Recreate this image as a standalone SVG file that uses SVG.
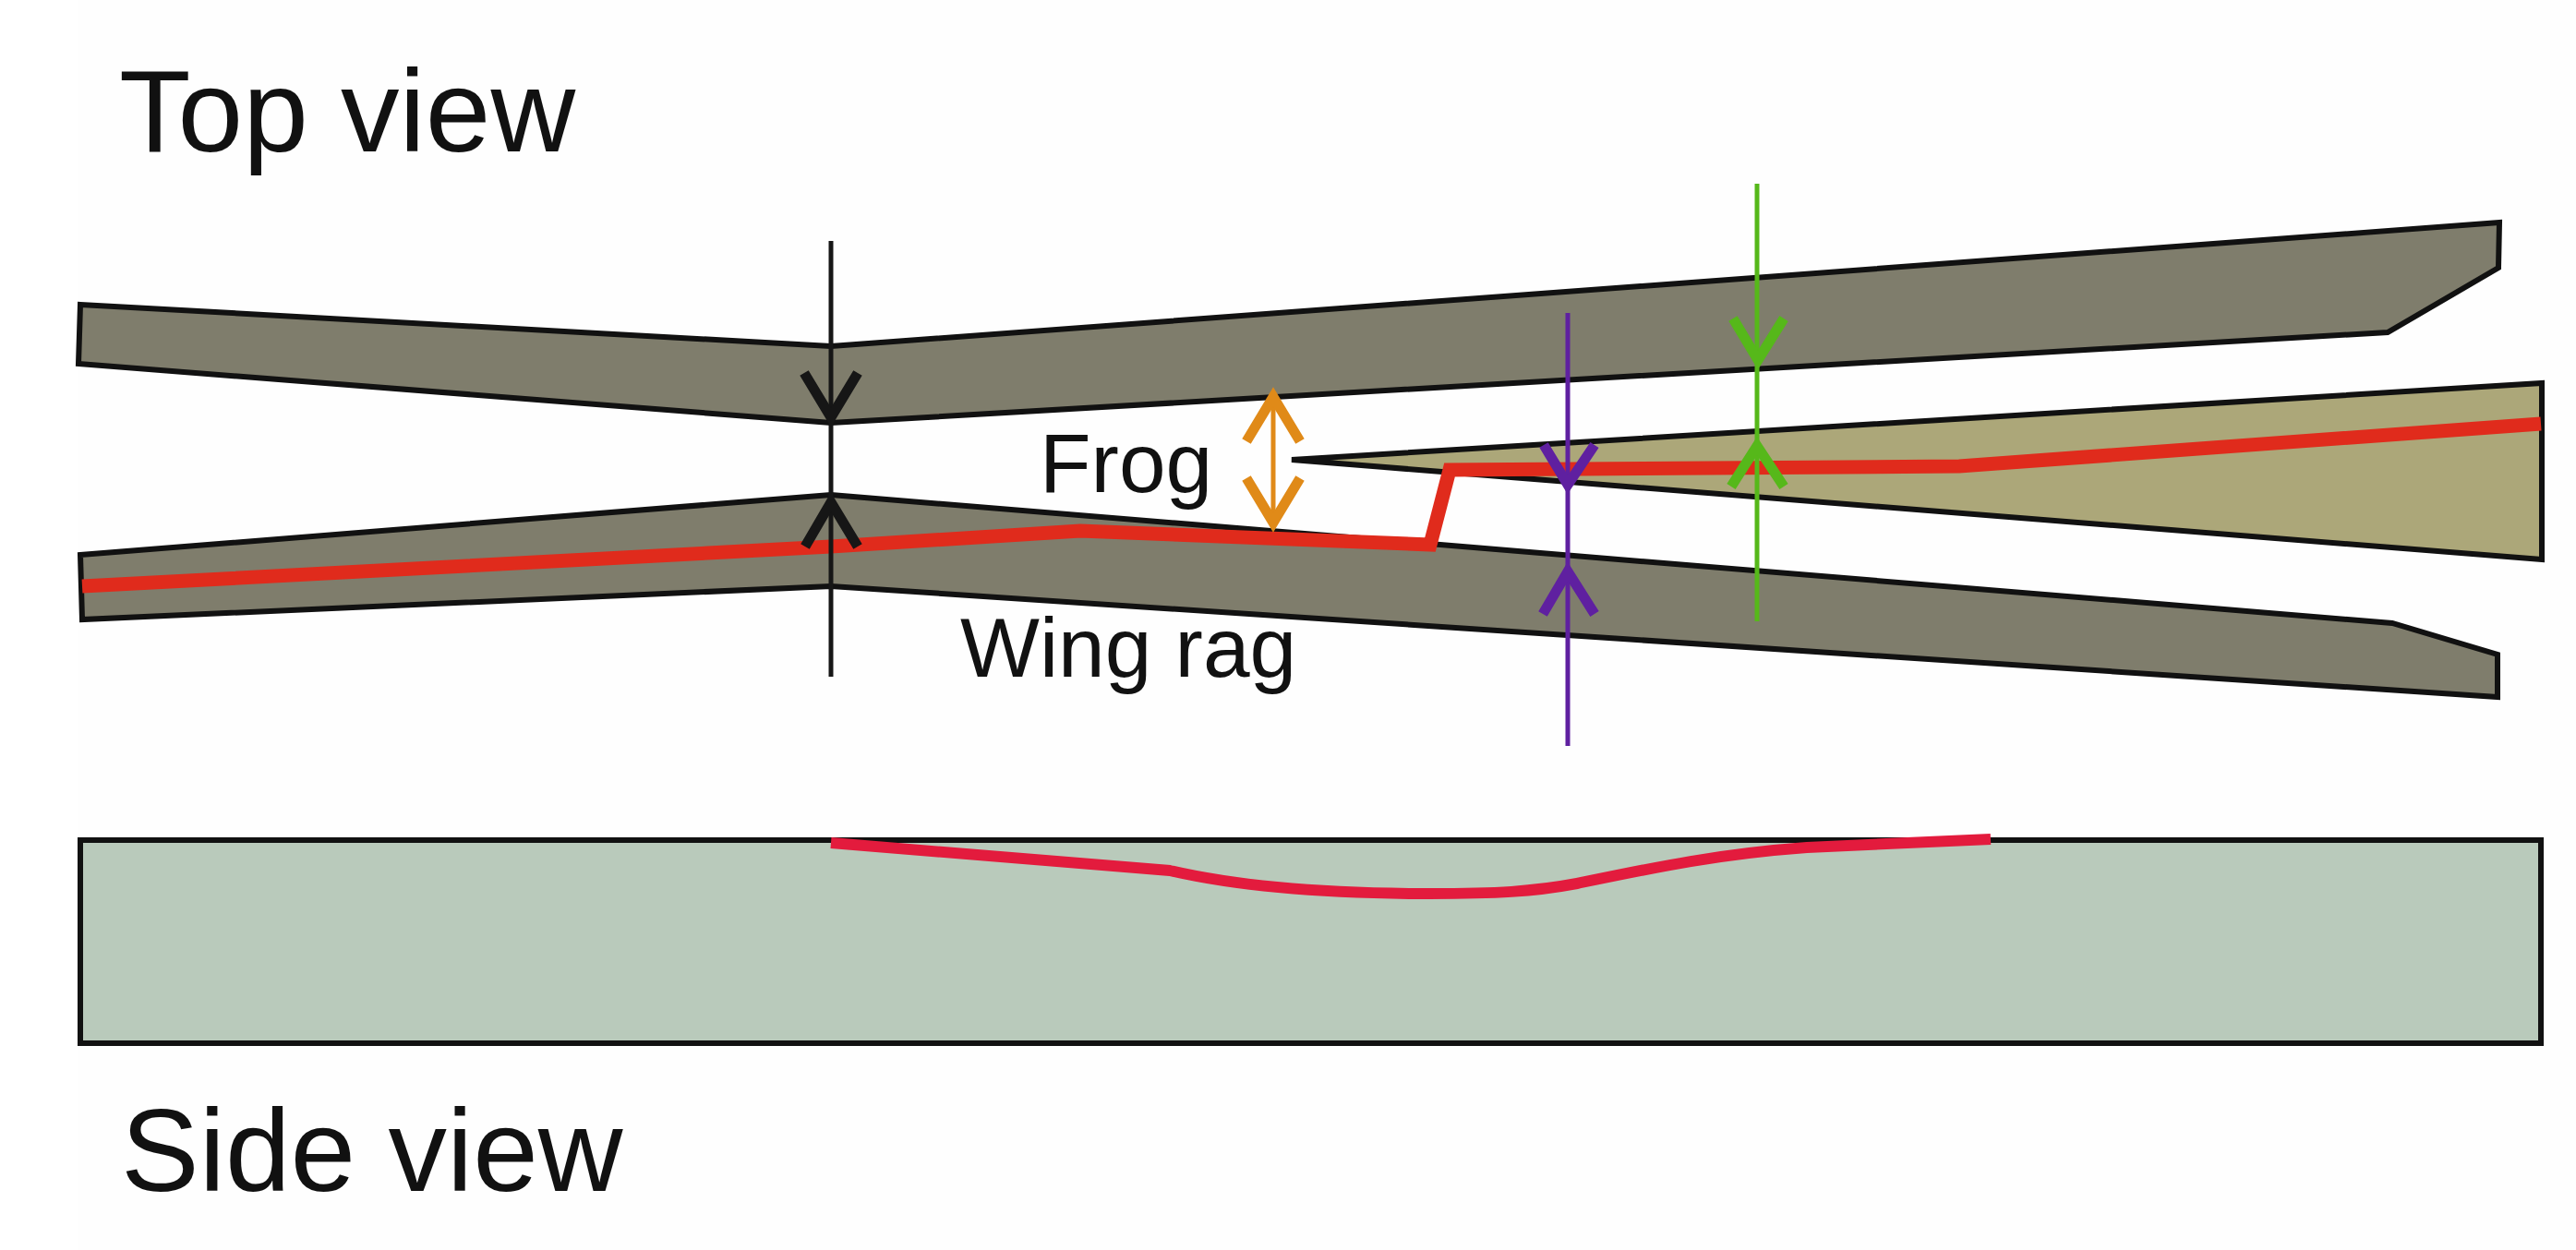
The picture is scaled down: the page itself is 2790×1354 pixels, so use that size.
<svg xmlns="http://www.w3.org/2000/svg" width="2790" height="1354" viewBox="0 0 2790 1354">
<style>
.band{fill:#7f7d6c;stroke:#111;stroke-width:6;stroke-linejoin:miter}
.frog{fill:#aca779;stroke:#111;stroke-width:6}
.side{fill:#b9cabb;stroke:#111;stroke-width:6}
.rail{fill:none;stroke:#e02b1c;stroke-width:15;stroke-linejoin:miter}
.dip{fill:none;stroke:#e31b3d;stroke-width:12}
.txt{font-family:"Liberation Sans",Arial,sans-serif;fill:#111111}
.big{font-size:127px}
.mid{font-size:91px}
.line{fill:none;stroke-width:5}
.head{fill:none;stroke-width:11;stroke-linejoin:miter}
.k{stroke:#161616}.o{stroke:#e08a18}.p{stroke:#5f20a0}.g{stroke:#56b81a}
</style>
<rect width="2790" height="1354" fill="#ffffff"/>
<rect x="85" y="0" width="2705" height="1354" fill="#fefefe"/>
<g id="top-view-label"><text class="txt big" x="129" y="164">Top view</text></g>
<g id="side-view-label"><text class="txt big" x="131" y="1290">Side view</text></g>
<g id="upper-wing"><polygon class="band" points="87,330 900,375 2707,241 2706,290 2586,360 900,458 85,394"/></g>
<g id="lower-wing"><polygon class="band" points="87,601 900,536 1560,590 2591,675 2705,709 2705,755 900,635 89,671"/></g>
<g id="frog"><polygon class="frog" points="1399,498 2753,415 2753,606"/></g>
<g id="side-block"><rect class="side" x="87" y="910" width="2665" height="220"/></g>
<g id="connectors">
<path class="rail" d="M89,635 L900,592 L1170,575 L1549,590 L1570,509 L2122,505 L2752,459"/>
<path class="dip" d="M900,913 L1267,943 C1340,960 1440,968 1548,968 C1620,968 1660,966 1708,957 C1790,940 1860,925 1957,918 L2156,909"/>
<line class="line k" x1="900" y1="261" x2="900" y2="733"/>
<path class="head k" d="M871,404 L900,452 L929,404"/>
<path class="head k" d="M872,592 L900,544 L929,592"/>
<line class="line o" x1="1379" y1="432" x2="1379" y2="566"/>
<path class="head o" d="M1350,478 L1379,430 L1408,478"/>
<path class="head o" d="M1350,518 L1379,566 L1408,518"/>
<line class="line p" x1="1698" y1="339" x2="1698" y2="808"/>
<path class="head p" d="M1672,482 L1698,525 L1727,482"/>
<path class="head p" d="M1671,665 L1698,619 L1727,665"/>
<line class="line g" x1="1903" y1="199" x2="1903" y2="673"/>
<path class="head g" d="M1877,345 L1904,390 L1932,345"/>
<path class="head g" d="M1875,527 L1903,483 L1932,527"/>
</g>
<g id="frog-label"><text class="txt mid" x="1126" y="533">Frog</text></g>
<g id="wing-rag-label"><text class="txt mid" x="1040" y="733">Wing rag</text></g>
</svg>
